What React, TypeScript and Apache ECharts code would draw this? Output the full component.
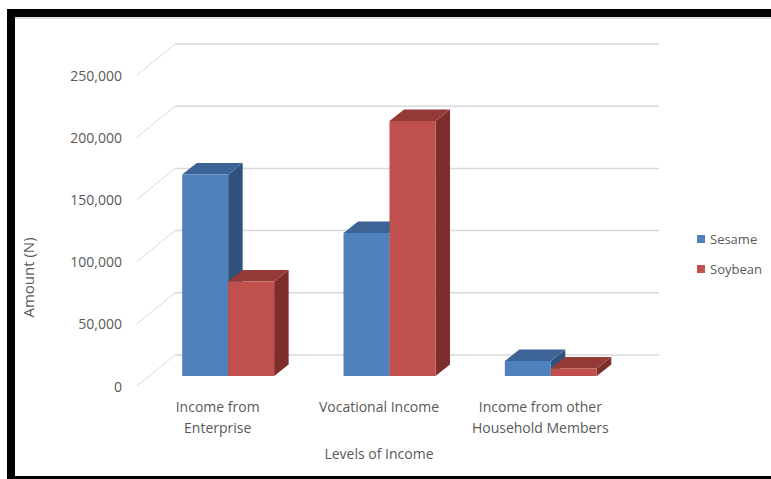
import React, { useEffect, useRef } from "react";
import * as echarts from "echarts";

const categories = ["Income from\nEnterprise", "Vocational Income", "Income from other\nHousehold Members"];
const seriesNames = ["Sesame", "Soybean"];
const sesame = [162000, 115000, 12000];
const soybean = [76000, 205000, 6000];
const yTicks = [0, 50000, 100000, 150000, 200000, 250000];

const FONT = "Open Sans";
const TXT = "#595959";
const GRID_COLOR = "#d9d9d9";
const WALL_DX = 38;
const WALL_DY = -31;
const BAR_OFF_X = 10.5;
const BAR_OFF_Y = -10;
const BAR_DX = 14.5;
const BAR_DY = -11.5;
const BAR_FRAC = 0.285;

const faces = [
  { front: "#4F81BD", top: "#3C6496", side: "#31527D" },
  { front: "#C0504D", top: "#963A37", side: "#7D2E2C" },
];

function makeBarRenderer(idx: number) {
  return (params: any, api: any) => {
    const cat = api.value(0);
    const val = api.value(1);
    const base = api.coord([cat, 0]);
    const top = api.coord([cat, val]);
    const band = api.size([1, 0])[0];
    const w = band * BAR_FRAC;
    const x0 = base[0] + BAR_OFF_X + (idx === 0 ? -w : 0);
    const yb = base[1] + BAR_OFF_Y;
    const yt = top[1] + BAR_OFF_Y;
    const c = faces[idx];
    return {
      type: "group",
      children: [
        {
          type: "polygon",
          shape: {
            points: [
              [x0 + w, yt],
              [x0 + w + BAR_DX, yt + BAR_DY],
              [x0 + w + BAR_DX, yb + BAR_DY],
              [x0 + w, yb],
            ],
          },
          style: { fill: c.side },
        },
        {
          type: "polygon",
          shape: {
            points: [
              [x0, yt],
              [x0 + BAR_DX, yt + BAR_DY],
              [x0 + w + BAR_DX, yt + BAR_DY],
              [x0 + w, yt],
            ],
          },
          style: { fill: c.top },
        },
        {
          type: "rect",
          shape: { x: x0, y: yt, width: w, height: yb - yt },
          style: { fill: c.front },
        },
      ],
    };
  };
}

function renderGridLine(params: any, api: any) {
  const cs = params.coordSys;
  const y = api.coord([0, api.value(1)])[1];
  const xl = cs.x;
  const xr = cs.x + cs.width;
  return {
    type: "group",
    children: [
      {
        type: "line",
        shape: { x1: xl, y1: y, x2: xl + WALL_DX, y2: y + WALL_DY },
        style: { stroke: GRID_COLOR, lineWidth: 1 },
      },
      {
        type: "line",
        shape: { x1: xl + WALL_DX, y1: y + WALL_DY, x2: xr + WALL_DX, y2: y + WALL_DY },
        style: { stroke: GRID_COLOR, lineWidth: 1.5 },
      },
    ],
  };
}

export default function App() {
  const ref = useRef<HTMLDivElement>(null);
  useEffect(() => {
    if (!ref.current) return;
    const chart = echarts.init(ref.current, undefined, { renderer: "svg" });
    chart.setOption({
      animation: false,
      backgroundColor: "#ffffff",
      textStyle: { fontFamily: FONT },
      grid: { left: 137, right: 150, top: 75, bottom: 93, containLabel: false },
      legend: {
        data: seriesNames,
        orient: "vertical",
        left: 692,
        top: 226,
        icon: "rect",
        itemWidth: 8,
        itemHeight: 8,
        itemGap: 14,
        textStyle: { fontSize: 13, color: TXT, lineHeight: 16, fontFamily: FONT },
      },
      xAxis: {
        type: "category",
        data: categories,
        axisLine: { show: false },
        axisTick: { show: false },
        splitLine: { show: false },
        axisLabel: { color: TXT, fontSize: 14, lineHeight: 21, margin: 10, interval: 0, fontFamily: FONT },
        name: "Levels of Income",
        nameLocation: "middle",
        nameGap: 59,
        nameTextStyle: { color: TXT, fontSize: 14, lineHeight: 16, fontFamily: FONT },
      },
      yAxis: {
        type: "value",
        min: 0,
        max: 250000,
        interval: 50000,
        axisLine: { show: false },
        axisTick: { show: false },
        splitLine: { show: false },
        axisLabel: {
          color: TXT,
          fontSize: 14,
          margin: 15,
          fontFamily: FONT,
          formatter: (v: number) => v.toLocaleString("en-US"),
        },
      },
      graphic: [
        { type: "rect", shape: { x: 7, y: 9, width: 764, height: 8 }, style: { fill: "#000" }, z: 10 },
        { type: "rect", shape: { x: 15, y: 17.5, width: 756, height: 1.5 }, style: { fill: "#d4d4d4" }, z: 10 },
        { type: "rect", shape: { x: 7, y: 9, width: 8, height: 470 }, style: { fill: "#000" }, z: 10 },
        { type: "rect", shape: { x: 7, y: 476, width: 764, height: 3 }, style: { fill: "#000" }, z: 10 },
        {
          type: "text",
          x: 27.5,
          y: 277.5,
          rotation: Math.PI / 2,
          style: {
            text: "Amount (N)",
            fill: TXT,
            fontSize: 15,
            fontFamily: FONT,
            align: "center",
            verticalAlign: "middle",
          },
        },
      ],
      series: [
        {
          type: "custom",
          name: "grid",
          renderItem: renderGridLine,
          data: yTicks.map((v) => [0, v]),
          encode: { x: 0, y: 1 },
          z: 1,
          silent: true,
        },
        {
          type: "custom",
          name: seriesNames[0],
          renderItem: makeBarRenderer(0),
          data: sesame.map((v, i) => [i, v]),
          encode: { x: 0, y: 1 },
          itemStyle: { color: faces[0].front },
          z: 2,
        },
        {
          type: "custom",
          name: seriesNames[1],
          renderItem: makeBarRenderer(1),
          data: soybean.map((v, i) => [i, v]),
          encode: { x: 0, y: 1 },
          itemStyle: { color: faces[1].front },
          z: 3,
        },
      ],
    });
    return () => chart.dispose();
  }, []);
  return (
    <div
      ref={ref}
      style={{ position: "fixed", left: 0, top: 0, width: 771, height: 479, background: "#fff" }}
    />
  );
}
